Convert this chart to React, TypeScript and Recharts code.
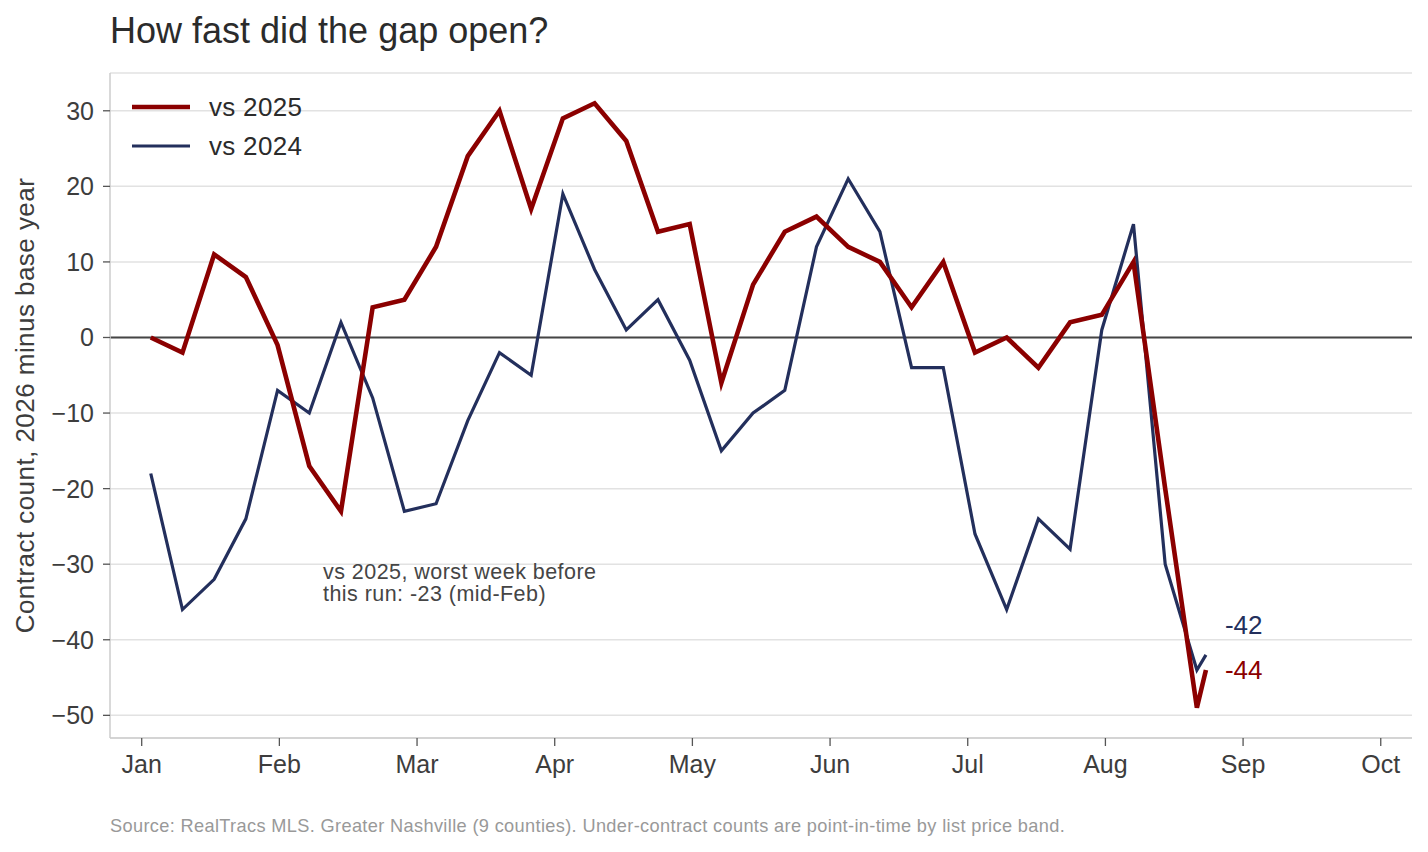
import React from 'react';
import { LineChart, Line, XAxis, YAxis, CartesianGrid, ReferenceLine, Legend, LabelList, Label } from 'recharts';

const FONT = '"Liberation Sans", Arial, Helvetica, sans-serif';

// Day offset from Jan 1 of each weekly reading
const weekDay = [2, 9, 16, 23, 30, 37, 44, 51, 58, 65, 72, 79, 86, 93, 100, 107, 114, 121, 128, 135, 142, 149, 156, 163, 170, 177, 184, 191, 198, 205, 212, 219, 226, 233, 235];
// 2026 minus 2025
const vs2025 = [0, -2, 11, 8, -1, -17, -23, 4, 5, 12, 24, 30, 17, 29, 31, 26, 14, 15, -6, 7, 14, 16, 12, 10, 4, 10, -2, 0, -4, 2, 3, 10, -20, -49, -44];
// 2026 minus 2024
const vs2024 = [-18, -36, -32, -24, -7, -10, 2, -8, -23, -22, -11, -2, -5, 19, 9, 1, 5, -3, -15, -10, -7, 12, 21, 14, -4, -4, -26, -36, -24, -28, 1, 15, -30, -44, -42];

const monthTickDays = [0, 30.4, 60.8, 91.2, 121.6, 152, 182.4, 212.8, 243.2, 273.6];
const monthLabels = ['Jan', 'Feb', 'Mar', 'Apr', 'May', 'Jun', 'Jul', 'Aug', 'Sep', 'Oct'];
const yTicks = [-50, -40, -30, -20, -10, 0, 10, 20, 30];

const RED = '#8b0000';
const BLUE = '#232f5c';

const data = weekDay.map((d, i) => ({ day: d, vs2025: vs2025[i], vs2024: vs2024[i] }));

const legendItems = [
  { label: 'vs 2025', color: RED, width: 4.5 },
  { label: 'vs 2024', color: BLUE, width: 3.2 },
];

const endLabel = (color: string, dy: number) => (props: any) => {
  const { x, y, index, value } = props;
  if (index !== data.length - 1) return null;
  return (
    <text x={x + 19} y={y + dy} fill={color} fontSize={26} fontFamily={FONT} dominantBaseline="central">
      {String(value)}
    </text>
  );
};

const fmtY = (v: number) => (v < 0 ? '\u2212' + Math.abs(v) : String(v));
const fmtX = (v: number) => {
  const i = monthTickDays.indexOf(v);
  return i >= 0 ? monthLabels[i] : '';
};

export default function App() {
  return (
    <div style={{ position: 'absolute', left: 0, top: 0, width: 1428, height: 852, background: '#fff', fontFamily: FONT }}>
      <div style={{ position: 'absolute', left: 110, top: 13, fontSize: 36, lineHeight: 1, color: '#2b2b2b', whiteSpace: 'nowrap' }}>
        How fast did the gap open?
      </div>
      <LineChart width={1428} height={852} data={data} margin={{ top: 73, right: 16, bottom: 74, left: 0 }}>
        <CartesianGrid horizontal vertical={false} stroke="#e2e2e2" strokeWidth={1.5} />
        <XAxis
          dataKey="day"
          type="number"
          domain={[-7, 280.5]}
          ticks={monthTickDays}
          tickFormatter={fmtX}
          interval={0}
          height={40}
          allowDataOverflow
          axisLine={{ stroke: '#cccccc', strokeWidth: 1.5 }}
          tickLine={{ stroke: '#555', strokeWidth: 1.3 }}
          tickSize={8}
          tickMargin={9}
          tick={{ fill: '#3d3d3d', fontSize: 25, fontFamily: FONT }}
        />
        <YAxis
          type="number"
          domain={[-53, 35]}
          ticks={yTicks}
          tickFormatter={fmtY}
          interval={0}
          width={110}
          allowDataOverflow
          axisLine={{ stroke: '#cccccc', strokeWidth: 1.5 }}
          tickLine={{ stroke: '#555', strokeWidth: 1.3 }}
          tickSize={7}
          tickMargin={9}
          tick={{ fill: '#3d3d3d', fontSize: 25, fontFamily: FONT }}
        >
          <Label
            content={(p: any) => {
              const vb = p.viewBox || { x: 0, y: 73, width: 110, height: 665 };
              const cx = 25;
              const cy = vb.y + vb.height / 2;
              return (
                <text
                  x={cx}
                  y={cy}
                  transform={`rotate(-90 ${cx} ${cy})`}
                  textAnchor="middle"
                  dominantBaseline="central"
                  fill="#3d3d3d"
                  fontSize={26}
                  letterSpacing={0.45}
                  fontFamily={FONT}
                >
                  Contract count, 2026 minus base year
                </text>
              );
            }}
          />
        </YAxis>
        <ReferenceLine y={0} stroke="#454545" strokeWidth={2} />
        <Legend
          layout="vertical"
          align="center"
          verticalAlign="middle"
          wrapperStyle={{ position: 'absolute', left: 130, top: 87, width: 240, height: 80 }}
          content={() => (
            <div style={{ fontFamily: FONT }}>
              {legendItems.map((it, i) => (
                <div key={it.label} style={{ position: 'absolute', left: 0, top: i * 38.5, height: 40, width: 240 }}>
                  <svg width={62} height={40} style={{ position: 'absolute', left: 0, top: 0 }}>
                    <line x1={2} x2={60} y1={20} y2={20} stroke={it.color} strokeWidth={it.width} />
                  </svg>
                  <span style={{ position: 'absolute', left: 79, top: 6, fontSize: 26, letterSpacing: 0.3, lineHeight: '28px', color: '#2b2b2b', whiteSpace: 'nowrap' }}>
                    {it.label}
                  </span>
                </div>
              ))}
            </div>
          )}
        />
        <Line type="linear" dataKey="vs2024" stroke={BLUE} strokeWidth={3.2} dot={false} isAnimationActive={false} strokeLinejoin="miter">
          <LabelList dataKey="vs2024" content={endLabel(BLUE, -30)} />
        </Line>
        <Line type="linear" dataKey="vs2025" stroke={RED} strokeWidth={4.6} dot={false} isAnimationActive={false} strokeLinejoin="miter">
          <LabelList dataKey="vs2025" content={endLabel(RED, 0)} />
        </Line>
      </LineChart>
      <div style={{ position: 'absolute', left: 323, top: 561, fontSize: 21.5, letterSpacing: 0.45, lineHeight: '22px', color: '#454545', whiteSpace: 'nowrap' }}>
        vs 2025, worst week before
        <br />
        this run: -23 (mid-Feb)
      </div>
      <div style={{ position: 'absolute', left: 110, top: 817, fontSize: 18.2, letterSpacing: 0.35, lineHeight: 1, color: '#999999', whiteSpace: 'nowrap' }}>
        Source: RealTracs MLS. Greater Nashville (9 counties). Under-contract counts are point-in-time by list price band.
      </div>
    </div>
  );
}
